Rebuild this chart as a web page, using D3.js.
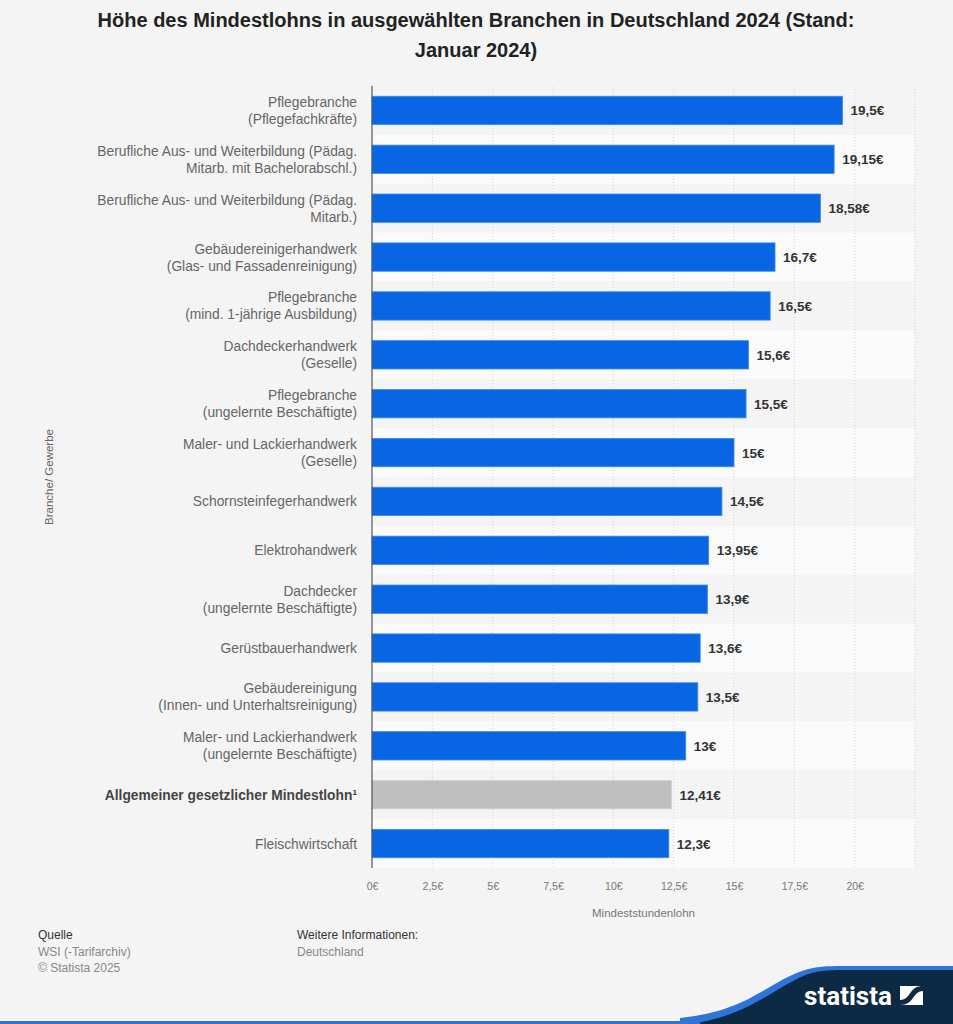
<!DOCTYPE html>
<html>
<head>
<meta charset="utf-8">
<script src="https://cdn.jsdelivr.net/npm/d3@7"></script>
<style>
  html, body { margin: 0; padding: 0; background: #f4f4f4; }
  svg { display: block; font-family: "Liberation Sans", Arial, sans-serif; }
</style>
</head>
<body>
<div id="chart"></div>
<script>
// categories (line breaks as in the original)
const branchen = [
  'Pflegebranche\n(Pflegefachkräfte)',
  'Berufliche Aus- und Weiterbildung (Pädag.\nMitarb. mit Bachelorabschl.)',
  'Berufliche Aus- und Weiterbildung (Pädag.\nMitarb.)',
  'Gebäudereinigerhandwerk\n(Glas- und Fassadenreinigung)',
  'Pflegebranche\n(mind. 1-jährige Ausbildung)',
  'Dachdeckerhandwerk\n(Geselle)',
  'Pflegebranche\n(ungelernte Beschäftigte)',
  'Maler- und Lackierhandwerk\n(Geselle)',
  'Schornsteinfegerhandwerk',
  'Elektrohandwerk',
  'Dachdecker\n(ungelernte Beschäftigte)',
  'Gerüstbauerhandwerk',
  'Gebäudereinigung\n(Innen- und Unterhaltsreinigung)',
  'Maler- und Lackierhandwerk\n(ungelernte Beschäftigte)',
  'Allgemeiner gesetzlicher Mindestlohn¹',
  'Fleischwirtschaft'
];
const mindestlohn = [19.5, 19.15, 18.58, 16.7, 16.5, 15.6, 15.5, 15, 14.5, 13.95, 13.9, 13.6, 13.5, 13, 12.41, 12.3];
const highlighted = ['Allgemeiner gesetzlicher Mindestlohn¹'];
const xTicks = [0, 2.5, 5, 7.5, 10, 12.5, 15, 17.5, 20, 22.5];
const xTickLabels = ['0€', '2,5€', '5€', '7,5€', '10€', '12,5€', '15€', '17,5€', '20€', ''];

const W = 953, H = 1024;
const plotL = 372, plotR = 915, plotT = 86, plotB = 868;

const fmt = v => String(v).replace('.', ',') + '€';

const svg = d3.select('#chart').append('svg')
  .attr('width', W).attr('height', H);

svg.append('rect').attr('width', W).attr('height', H).attr('fill', '#f4f4f4');

// title
svg.append('text')
  .attr('x', 476).attr('y', 27)
  .attr('text-anchor', 'middle')
  .attr('font-size', 20).attr('font-weight', 'bold').attr('fill', '#222')
  .selectAll('tspan')
  .data(['Höhe des Mindestlohns in ausgewählten Branchen in Deutschland 2024 (Stand:', 'Januar 2024)'])
  .enter().append('tspan')
  .attr('x', 476)
  .attr('dy', (d, i) => i ? 30 : 0)
  .text(d => d);

const x = d3.scaleLinear().domain([0, 22.5]).range([plotL, plotR]);
const y = d3.scaleBand().domain(branchen).range([plotT, plotB]).paddingInner(0.42).paddingOuter(0.21);

// row stripes
svg.append('g').selectAll('rect')
  .data(branchen)
  .enter().append('rect')
  .attr('x', plotL)
  .attr('y', d => y(d) - y.step() * y.paddingInner() / 2)
  .attr('width', plotR - plotL)
  .attr('height', y.step())
  .attr('fill', (d, i) => i % 2 ? '#fafafa' : '#f4f4f4');

// grid
svg.append('g').selectAll('line')
  .data(xTicks.slice(1))
  .enter().append('line')
  .attr('x1', d => x(d)).attr('x2', d => x(d))
  .attr('y1', plotT).attr('y2', plotB)
  .attr('stroke', '#d6d6d6').attr('stroke-width', 1)
  .attr('stroke-dasharray', '1,2');

// bars
svg.append('g').selectAll('rect')
  .data(branchen)
  .enter().append('rect')
  .attr('x', x(0))
  .attr('y', d => y(d))
  .attr('width', (d, i) => x(mindestlohn[i]) - x(0))
  .attr('height', y.bandwidth())
  .attr('fill', d => highlighted.includes(d) ? '#bfbfbf' : '#0866e4')
  .attr('stroke', d => highlighted.includes(d) ? '#d0d0d0' : '#3d8af0')
  .attr('stroke-width', 0.8);

// value labels
svg.append('g').selectAll('text')
  .data(branchen)
  .enter().append('text')
  .attr('x', (d, i) => x(mindestlohn[i]) + 8)
  .attr('y', d => y(d) + y.bandwidth() / 2 + 5)
  .attr('font-size', 13.5).attr('font-weight', 'bold').attr('fill', '#333')
  .text((d, i) => fmt(mindestlohn[i]));

// category labels
const cat = svg.append('g').selectAll('text')
  .data(branchen)
  .enter().append('text')
  .attr('text-anchor', 'end')
  .attr('font-size', 13.8)
  .attr('fill', d => highlighted.includes(d) ? '#444' : '#666')
  .attr('font-weight', d => highlighted.includes(d) ? 'bold' : 'normal');

cat.each(function (d) {
  const lines = d.split('\n');
  const cy = y(d) + y.bandwidth() / 2;
  const lh = 17;
  d3.select(this).selectAll('tspan')
    .data(lines)
    .enter().append('tspan')
    .attr('x', 357)
    .attr('y', (l, j) => cy + 5 + (j - (lines.length - 1) / 2) * lh)
    .text(l => l);
});

// y axis line
svg.append('line')
  .attr('x1', plotL).attr('x2', plotL)
  .attr('y1', plotT).attr('y2', plotB)
  .attr('stroke', '#555').attr('stroke-width', 1.2);

// x axis
const xAxis = d3.axisBottom(x)
  .tickValues(xTicks)
  .tickSize(0)
  .tickPadding(0)
  .tickFormat((d, i) => xTickLabels[i]);

const gx = svg.append('g')
  .attr('transform', `translate(0,${plotB + 15})`)
  .call(xAxis);
gx.select('.domain').remove();
gx.selectAll('text')
  .attr('font-family', '"Liberation Sans", Arial, sans-serif')
  .attr('font-size', 10.5).attr('fill', '#777');

svg.append('text')
  .attr('x', (plotL + plotR) / 2).attr('y', 917)
  .attr('text-anchor', 'middle')
  .attr('font-size', 11.5).attr('fill', '#777')
  .text('Mindeststundenlohn');

svg.append('text')
  .attr('transform', `translate(53,${(plotT + plotB) / 2}) rotate(-90)`)
  .attr('text-anchor', 'middle')
  .attr('font-size', 11.5).attr('fill', '#666')
  .text('Branche/ Gewerbe');

// footer
const foot = [
  { x: 38, y: 939, t: 'Quelle', c: '#333' },
  { x: 38, y: 956, t: 'WSI (-Tarifarchiv)', c: '#888' },
  { x: 38, y: 972, t: '© Statista 2025', c: '#888' },
  { x: 297, y: 939, t: 'Weitere Informationen:', c: '#333' },
  { x: 297, y: 956, t: 'Deutschland', c: '#888' }
];
svg.append('g').selectAll('text')
  .data(foot)
  .enter().append('text')
  .attr('x', d => d.x).attr('y', d => d.y)
  .attr('font-size', 12).attr('fill', d => d.c)
  .text(d => d.t);

// statista logo wave
const logo = svg.append('g');
logo.append('path')
  .attr('d', 'M680,1024 L680,1018 C740,1012 760,990 790,976 C805,969 815,966 840,966 L953,966 L953,1024 Z')
  .attr('fill', '#2e74d9');
logo.append('path')
  .attr('d', 'M690,1024 C745,1016 765,995 795,980 C808,973 818,970 842,970 L953,970 L953,1024 Z')
  .attr('fill', '#0c2a43');
logo.append('rect')
  .attr('x', 0).attr('y', 1021).attr('width', 700).attr('height', 3)
  .attr('fill', '#2e74d9');
logo.append('text')
  .attr('x', 804).attr('y', 1005)
  .attr('font-family', 'Roboto, "Liberation Sans", sans-serif')
  .attr('font-size', 25).attr('font-weight', 'bold').attr('fill', '#fff')
  .attr('textLength', 88).attr('lengthAdjust', 'spacingAndGlyphs')
  .text('statista');
logo.append('rect')
  .attr('x', 900).attr('y', 986).attr('width', 23).attr('height', 19)
  .attr('fill', '#fff');
logo.append('path')
  .attr('d', 'M900,1005 L900,1000 C906,1000 908,996 911,992 C914,988 917,986 923,986 L923,991 C918,991 916,994 913,998 C910,1002 907,1005 900,1005 Z')
  .attr('fill', '#0c2a43');
</script>
</body>
</html>
